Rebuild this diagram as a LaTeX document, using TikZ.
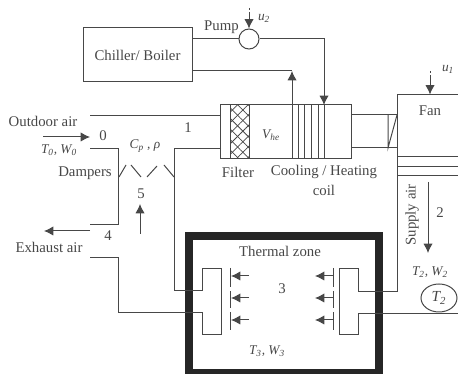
\documentclass[tikz,border=0pt]{standalone}
\usepackage{fontspec}
\setmainfont{Liberation Serif}
\usetikzlibrary{arrows.meta,shapes.geometric,patterns.meta}
\definecolor{ink}{gray}{0.28}
\tikzset{
  lbl/.style={inner sep=0pt,text=ink,font=\fontsize{11.1}{13}\selectfont},
  sym/.style={inner sep=0pt,text=ink,font=\fontsize{10}{12}\itshape},
  pipe/.style={draw=ink,line width=0.75pt},
  flow/.style={pipe,-{Latex[length=7pt,width=7pt]}},
  ctrl/.style={flow,dash pattern=on 1.5pt off 1.5pt on 20pt},
  boxed/.style={pipe,rectangle,inner sep=0pt},
}
\begin{document}
\begin{tikzpicture}[x=0.75pt,y=-0.75pt]
\useasboundingbox (0,0) rectangle (458,374);
% Chiller and pump
\node[boxed,lbl,draw,minimum width=81.75pt,minimum height=40.5pt] (chiller) at (137.5,55) {Chiller/ Boiler};
\node[pipe,circle,minimum size=15pt,inner sep=0pt] (pump) at (249,39) {};
\path (221.5,27) node[lbl] (pumplbl) {Pump};
\path (264,18) node[sym] (utwo) {u\textsubscript{2}};
\coordinate (utwotop) at (249,8);
\draw[ctrl] (utwotop) -- (pump);
% Air handling unit
\node[boxed,draw,minimum width=98.25pt,minimum height=40.5pt] (ahu) at (286,132) {};
\fill[pattern={Lines[angle=45,distance=5.6pt,line width=0.55pt]},pattern color=ink] (230,105) rectangle (249,159);
\fill[pattern={Lines[angle=-45,distance=5.6pt,line width=0.55pt]},pattern color=ink] (230,105) rectangle (249,159);
\coordinate (hatchtl) at (230,105);
\coordinate (hatchtr) at (249,105);
\draw[pipe] (hatchtl) -- ++(0,54);
\draw[pipe] (hatchtr) -- ++(0,54);
\coordinate (coilout) at (292,105);
\coordinate (coiltwo) at (298,105);
\coordinate (coilthree) at (304.5,105);
\coordinate (coilfour) at (311,105);
\coordinate (coilfive) at (318,105);
\coordinate (coilin) at (324,105);
\draw[pipe] (coilout) -- ++(0,54);
\draw[pipe] (coiltwo) -- ++(0,54);
\draw[pipe] (coilthree) -- ++(0,54);
\draw[pipe] (coilfour) -- ++(0,54);
\draw[pipe] (coilfive) -- ++(0,54);
\draw[pipe] (coilin) -- ++(0,54);
\path (271,135) node[sym] (vhe) {V\textsubscript{he}};
\path (238,172) node[lbl] (filter) {Filter};
\path (324,172) node[lbl] (coillbl) {Cooling / Heating};
\path (324,190) node[lbl] (coilword) {coil};
% Water loop
\coordinate (retp) at (292,71);
\draw[flow] (pump.east) -| (coilin);
\draw[pipe] (chiller.east |- pump) -- (pump.west);
\draw[flow] (coilout) -- (retp);
\draw[pipe] (chiller.east |- retp) -- (retp);
% Fan and duct
\coordinate (fantop) at (397,94.5);
\coordinate (fanright) at (458,94.5);
\coordinate (supplyc) at (397,292);
\coordinate (ductta) at (351,115);
\coordinate (ducttb) at (397,115);
\coordinate (ductba) at (351,148);
\coordinate (ductbb) at (397,148);
\coordinate (vanea) at (388,148);
\coordinate (vaneb) at (388,115);
\draw[pipe] (fanright) -- (fantop) -- (supplyc);
\draw[pipe] (ductta) -- (ducttb);
\draw[pipe] (ductba) -- (ductbb);
\draw[pipe] (vaneb) -- (vanea) -- (ducttb);
\path (430,111) node[lbl] (fan) {Fan};
\path (448,69) node[sym] (uone) {u\textsubscript{1}};
\coordinate (uonetop) at (430,71);
\draw[ctrl] (uonetop) -- (uonetop |- fantop);
\coordinate (barone) at (397,157);
\coordinate (bartwo) at (397,167);
\coordinate (barthree) at (397,176);
\draw[pipe] (barone) -- ++(61,0);
\draw[pipe] (bartwo) -- ++(61,0);
\draw[pipe] (barthree) -- ++(61,0);
% Supply air
\path (412,215) node[lbl,rotate=90] (supply) {Supply air};
\path (440,213) node[lbl] (ntwo) {2};
\coordinate (suptop) at (428,182);
\coordinate (supend) at (428,253);
\draw[flow] (suptop) -- (supend);
\path (430,272) node[sym] (tw2) {T\textsubscript{2}, W\textsubscript{2}};
\node[pipe,draw,ellipse,minimum width=27pt,minimum height=21pt,inner sep=0pt,sym,font=\fontsize{11.5}{13}\itshape] (tank) at (439,298) {T\textsubscript{2}};
% Outdoor and exhaust ducts
\coordinate (oatop) at (90,116);
\coordinate (ahuinb) at (221,149);
\coordinate (oalow) at (90,149);
\coordinate (mixa) at (118,149);
\coordinate (mixb) at (118,225);
\coordinate (exa) at (90,225);
\coordinate (exb) at (90,258);
\coordinate (exc) at (118,258);
\coordinate (exd) at (118,313);
\coordinate (ra) at (174,149);
\coordinate (rb) at (174,291);
\draw[pipe] (oatop) -- (oatop -| ahu.west);
\draw[pipe] (oalow) -- (mixa) -- (mixb) -- (exa);
\draw[pipe] (exb) -- (exc) -- (exd);
\draw[pipe] (ahuinb) -- (ra) -- (rb);
\path (43,121) node[lbl] (oa) {Outdoor air};
\coordinate (oaa) at (43,137);
\coordinate (oab) at (90,137);
\draw[flow] (oaa) -- (oab);
\path (103,136) node[lbl] (nzero) {0};
\path (59,150) node[sym] (tw0) {T\textsubscript{0}, W\textsubscript{0}};
\path (188,128) node[lbl] (none) {1};
\path (145,146) node[sym] (cp) {C\textsubscript{p} , ρ};
\path (85,173) node[lbl] (damp) {Dampers};
\path (108,236) node[lbl] (nfour) {4};
\path (49,247) node[lbl] (exhaust) {Exhaust air};
\coordinate (exfa) at (90,231);
\coordinate (exfb) at (44,231);
\draw[flow] (exfa) -- (exfb);
\path (141,194) node[lbl] (nfive) {5};
\coordinate (recb) at (140,234);
\coordinate (reca) at (140,204);
\draw[flow] (recb) -- (reca);
% Damper blades
\coordinate (dampa) at (119,177);
\coordinate (dampb) at (126,165);
\coordinate (dampc) at (131,165);
\coordinate (dampd) at (141,177);
\coordinate (dampe) at (147,177);
\coordinate (dampf) at (157,166);
\coordinate (dampg) at (164,165);
\coordinate (damph) at (174,177);
\draw[pipe] (dampa) -- (dampb);
\draw[pipe] (dampc) -- (dampd);
\draw[pipe] (dampe) -- (dampf);
\draw[pipe] (dampg) -- (damph);
% Thermal zone
\node[draw=black!85,line width=6pt,rectangle,minimum width=142.5pt,minimum height=102.5pt,inner sep=0pt] (zone) at (284,304.8) {};
\path (280,251) node[lbl] (zonelbl) {Thermal zone};
\path (282,289) node[lbl] (nthree) {3};
\path (267,351) node[sym] (tw3) {T\textsubscript{3}, W\textsubscript{3}};
% Diffusers
\coordinate (dla) at (202,291);
\coordinate (dlb) at (202,269);
\coordinate (dlc) at (221,269);
\coordinate (dld) at (221,335);
\coordinate (dle) at (202,335);
\coordinate (dlf) at (202,313);
\draw[pipe] (rb) -- (dla) -- (dlb) -- (dlc) -- (dld) -- (dle) -- (dlf) -- (exd);
\coordinate (dra) at (358,292);
\coordinate (drb) at (358,269);
\coordinate (drc) at (339,269);
\coordinate (drd) at (339,335);
\coordinate (dre) at (358,335);
\coordinate (drf) at (358,314);
\coordinate (drg) at (458,314);
\draw[pipe] (supplyc) -- (dra) -- (drb) -- (drc) -- (drd) -- (dre) -- (drf) -- (drg);
% Room air arrows
\coordinate (lta) at (249,276);
\coordinate (ltb) at (231,276);
\coordinate (lma) at (249,298);
\coordinate (lmb) at (231,298);
\coordinate (lba) at (249,320);
\coordinate (lbb) at (231,320);
\draw[flow] (lta) -- (ltb);
\draw[flow] (lma) -- (lmb);
\draw[flow] (lba) -- (lbb);
\draw[pipe] (230,268) -- (230,287);
\draw[pipe] (230,291) -- (230,308);
\draw[pipe] (230,312) -- (230,330);
\coordinate (rta) at (333,276);
\coordinate (rtb) at (315,276);
\coordinate (rma) at (333,298);
\coordinate (rmb) at (315,298);
\coordinate (rba) at (333,320);
\coordinate (rbb) at (315,320);
\draw[flow] (rta) -- (rtb);
\draw[flow] (rma) -- (rmb);
\draw[flow] (rba) -- (rbb);
\draw[pipe] (333,268) -- (333,287);
\draw[pipe] (333,291) -- (333,308);
\draw[pipe] (333,312) -- (333,330);
\end{tikzpicture}
\end{document}
